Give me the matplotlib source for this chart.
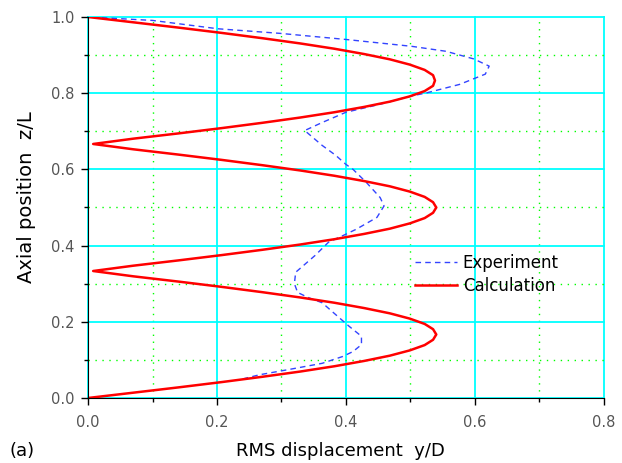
import matplotlib
matplotlib.use("Agg")
import matplotlib.pyplot as plt
from matplotlib.ticker import MultipleLocator, FormatStrFormatter

# calculation (red)
calc_z = [0.0, 0.0139, 0.0278, 0.0417, 0.0556, 0.0694, 0.0833, 0.0972, 0.1111, 0.125, 0.1389, 0.1528,
          0.1667, 0.1806, 0.1944, 0.2083, 0.2222, 0.2361, 0.25, 0.2639, 0.2778, 0.2917, 0.3056, 0.3194,
          0.3333, 0.3472, 0.3611, 0.375, 0.3889, 0.4028, 0.4167, 0.4306, 0.4444, 0.4583, 0.4722, 0.4861,
          0.5, 0.5139, 0.5278, 0.5417, 0.5556, 0.5694, 0.5833, 0.5972, 0.6111, 0.625, 0.6389, 0.6528,
          0.6667, 0.6806, 0.6944, 0.7083, 0.7222, 0.7361, 0.75, 0.7639, 0.7778, 0.7917, 0.8056, 0.8194,
          0.8333, 0.8472, 0.8611, 0.875, 0.8889, 0.9028, 0.9167, 0.9306, 0.9444, 0.9583, 0.9722, 0.9861,
          1.0]
calc_y = [0.0, 0.070, 0.140, 0.207, 0.270, 0.329, 0.382, 0.428, 0.468, 0.499, 0.522, 0.535,
          0.540, 0.535, 0.522, 0.499, 0.468, 0.428, 0.382, 0.329, 0.270, 0.207, 0.140, 0.070,
          0.008, 0.070, 0.140, 0.207, 0.270, 0.329, 0.382, 0.428, 0.468, 0.499, 0.522, 0.535,
          0.540, 0.535, 0.522, 0.499, 0.468, 0.428, 0.382, 0.329, 0.270, 0.207, 0.140, 0.070,
          0.008, 0.070, 0.140, 0.207, 0.270, 0.329, 0.382, 0.428, 0.468, 0.499, 0.522, 0.535,
          0.538, 0.535, 0.522, 0.499, 0.468, 0.428, 0.382, 0.329, 0.270, 0.207, 0.140, 0.070,
          0.0]

# experiment (blue dashed)
exp_z = [0.05, 0.061, 0.074, 0.091, 0.109, 0.122, 0.14, 0.162, 0.188, 0.21, 0.25, 0.264, 0.277,
         0.30, 0.33, 0.374, 0.409, 0.426, 0.443, 0.474, 0.504, 0.526, 0.565, 0.60, 0.613,
         0.637, 0.663, 0.702, 0.723, 0.75, 0.771, 0.793, 0.80, 0.823, 0.85, 0.871, 0.89,
         0.91, 0.923, 0.941, 0.957, 0.969, 0.991, 1.0]
exp_y = [0.24, 0.266, 0.309, 0.363, 0.395, 0.411, 0.424, 0.424, 0.405, 0.39, 0.363, 0.341, 0.325,
         0.32, 0.322, 0.352, 0.373, 0.395, 0.416, 0.448, 0.459, 0.453, 0.432, 0.411, 0.40,
         0.384, 0.363, 0.336, 0.363, 0.40, 0.453, 0.502, 0.523, 0.576, 0.616, 0.622, 0.598,
         0.555, 0.502, 0.40, 0.298, 0.202, 0.10, 0.0]

fig = plt.figure(figsize=(6.22, 4.63), dpi=100)
ax = fig.add_axes([0.1415, 0.1404, 0.8295, 0.8229])

ax.set_xlim(0, 0.8)
ax.set_ylim(0, 1.0)
ax.xaxis.set_major_locator(MultipleLocator(0.2))
ax.xaxis.set_minor_locator(MultipleLocator(0.1))
ax.yaxis.set_major_locator(MultipleLocator(0.2))
ax.yaxis.set_minor_locator(MultipleLocator(0.1))
ax.xaxis.set_major_formatter(FormatStrFormatter('%.1f'))
ax.yaxis.set_major_formatter(FormatStrFormatter('%.1f'))

ax.grid(which='major', color='#00ffff', linewidth=1.3, linestyle='-')
ax.grid(which='minor', color='#00ff00', linewidth=1.0, linestyle=(0, (1, 4)))
ax.set_axisbelow(True)
for gl in ax.get_xgridlines() + ax.get_ygridlines():
    gl.set_clip_on(False)

ax.spines['top'].set_visible(False)
ax.spines['right'].set_visible(False)
ax.tick_params(which='major', direction='out', length=5, width=1, labelsize=10.5,
               labelcolor='#555555')
ax.tick_params(which='minor', direction='out', length=3, width=1)
ax.tick_params(axis='x', which='major', pad=7)
ax.tick_params(axis='y', which='major', pad=4.5)

ax.plot(exp_y, exp_z, color='#3344ff', linewidth=1.0, linestyle=(0, (4, 3)), label='Experiment')
ax.plot(calc_y, calc_z, color='#ff0000', linewidth=1.8, label='Calculation')

fig.text(0.5466, 0.0151, 'RMS displacement  y/D', fontsize=13, ha='center', va='baseline')
fig.text(0.0434, 0.5745, 'Axial position  z/L', fontsize=14, rotation=90, ha='center', va='center')
fig.text(0.016, 0.0151, '(a)', fontsize=13, va='baseline')

ax.legend(loc='upper left', bbox_to_anchor=(0.634, 0.378), frameon=False, fontsize=12,
          handlelength=2.5, borderpad=0, borderaxespad=0, labelspacing=0.3,
          handletextpad=0.36)

fig.savefig('out.png', dpi=100)
